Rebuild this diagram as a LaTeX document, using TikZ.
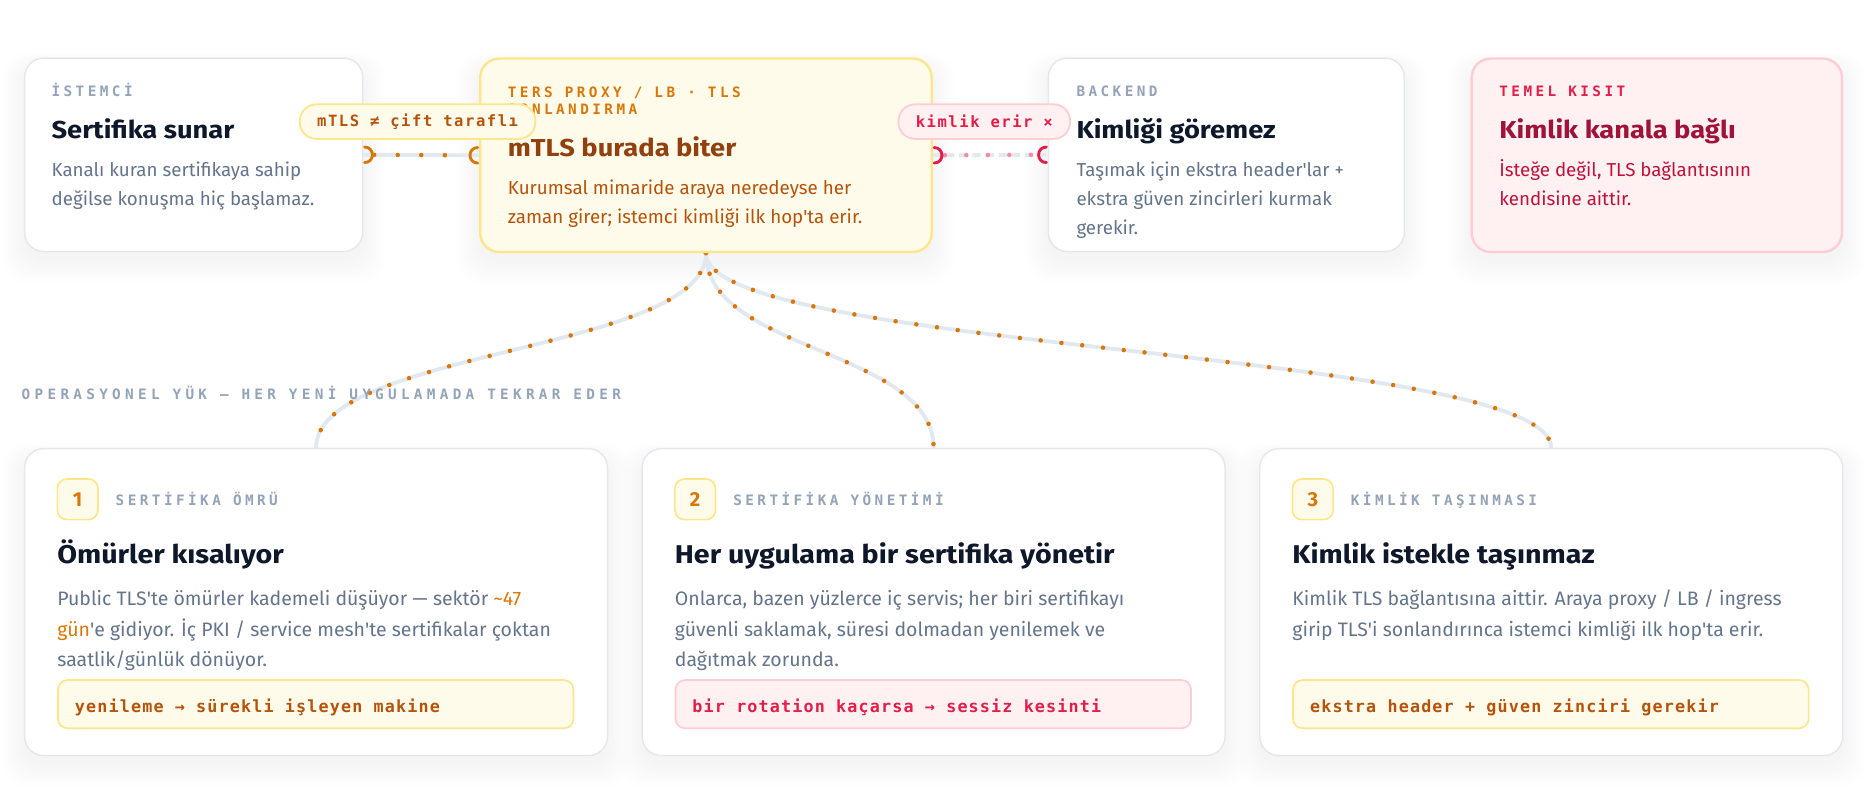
\documentclass[tikz,border=0pt]{standalone}
\usepackage{fontspec}
\setmainfont{Fira Sans}
\newfontfamily\titlefont[FakeStretch=1.115]{Fira Sans}
\newfontfamily\monolab[LetterSpace=24]{DejaVu Sans Mono}
\newfontfamily\monopill[LetterSpace=10]{DejaVu Sans Mono}
\newfontfamily\monobox[LetterSpace=7]{DejaVu Sans Mono}
\newfontfamily\monowide[LetterSpace=30]{DejaVu Sans Mono}
\usetikzlibrary{calc}
\newcommand\aq{\textquotesingle}
\definecolor{ink}{HTML}{0F172A}
\definecolor{muted}{HTML}{64748B}
\definecolor{faint}{HTML}{94A3B8}
\definecolor{cardline}{HTML}{E5E7EB}
\definecolor{trackgray}{HTML}{E2E8F0}
\definecolor{amberA}{HTML}{FFFBEB}
\definecolor{amberB}{HTML}{FDE68A}
\definecolor{amberC}{HTML}{D97706}
\definecolor{amberD}{HTML}{B45309}
\definecolor{amberE}{HTML}{92400E}
\definecolor{roseA}{HTML}{FFF1F2}
\definecolor{roseB}{HTML}{FECDD3}
\definecolor{roseC}{HTML}{E11D48}
\definecolor{roseD}{HTML}{BE123C}
\definecolor{roseE}{HTML}{9F1239}
\definecolor{roseDot}{HTML}{F58BA6}
\pgfdeclarelayer{shadowlayer}
\pgfdeclarelayer{connlayer}
\pgfsetlayers{shadowlayer,connlayer,main}
\tikzset{
  card/.style={draw=cardline, line width=1.2pt, fill=white, rounded corners=16pt, inner sep=0pt, anchor=north west},
  lab/.style={anchor=base west, inner sep=0pt, text=faint, font=\monolab\bfseries\fontsize{12}{14}\selectfont},
  ttl/.style={anchor=base west, inner sep=0pt, text=ink, font=\titlefont\bfseries\fontsize{20.5}{24}\selectfont},
  bigttl/.style={anchor=base west, inner sep=0pt, text=ink, font=\titlefont\bfseries\fontsize{21.5}{26}\selectfont},
  bdy/.style={anchor=base west, inner sep=0pt, text=muted, font=\fontsize{15.7}{18}\selectfont},
  bigbdy/.style={anchor=base west, inner sep=0pt, text=muted, font=\fontsize{16.3}{19}\selectfont},
  track/.style={draw=trackgray, line width=3.2pt},
  dotor/.style={draw=amberC, line width=3.8pt, line cap=round, dash pattern=on 0pt off 17.5pt},
  dotorline/.style={draw=amberC, line width=3.8pt, line cap=round, dash pattern=on 0pt off 19.75pt},
  dotpk/.style={draw=roseDot, line width=3.8pt, line cap=round, dash pattern=on 0pt off 18pt},
  capor/.style={draw=amberC, line width=2.4pt, line cap=round},
  cappk/.style={draw=roseC, line width=2.4pt, line cap=round},
  pillY/.style={draw=amberB, fill=amberA, line width=1.5pt, rounded corners=14pt, minimum height=29pt, inner xsep=14.5pt, inner ysep=0pt, text=amberD, font=\monopill\bfseries\fontsize{13}{15}\selectfont},
  pillR/.style={draw=roseB, fill=roseA, line width=1.5pt, rounded corners=14pt, minimum height=29pt, inner xsep=14.5pt, inner ysep=0pt, text=roseC, font=\monopill\bfseries\fontsize{13}{15}\selectfont},
  boxY/.style={draw=amberB, fill=amberA, line width=1.4pt, rounded corners=8pt, minimum width=431.6pt, minimum height=40.4pt, inner sep=0pt, anchor=north west},
  boxR/.style={draw=roseB, fill=roseA, line width=1.4pt, rounded corners=8pt, minimum width=431.6pt, minimum height=40.4pt, inner sep=0pt, anchor=north west},
  boxtxt/.style={anchor=base west, inner sep=0pt, font=\monobox\bfseries\fontsize{14}{16}\selectfont},
  badge/.style={draw=amberB, fill=amberA, line width=1.4pt, rounded corners=8pt, minimum size=34pt, inner sep=0pt, text=amberC, font=\bfseries\fontsize{17}{18}\selectfont},
}
\newcommand\cardshadow[2]{%
  \begin{pgfonlayer}{shadowlayer}
  \foreach \k in {1,...,10}{%
    \fill[#2, opacity=0.004, rounded corners=20pt] ($(#1.north west)+(-1.8*\k,-1.2*\k+8)$) rectangle ($(#1.south east)+(1.8*\k,2*\k+6)$);
  }
  \end{pgfonlayer}}
\begin{document}
\begin{tikzpicture}[x=1pt,y=-1pt]
\begin{pgfonlayer}{shadowlayer}
\fill[white] (0,0) rectangle (1568,666);
\end{pgfonlayer}
\useasboundingbox (0,0) rectangle (1568,666);

% ---------- top row cards
\node[card, minimum width=283pt, minimum height=162pt] (ist) at (20,48) {};
\node[card, draw=amberB, fill=amberA, line width=2pt, minimum width=378pt, minimum height=162pt] (prx) at (401,48) {};
\node[card, minimum width=298pt, minimum height=162pt] (bk) at (877,48) {};
\node[card, draw=roseB, fill=roseA, line width=2pt, minimum width=310pt, minimum height=162pt] (tk) at (1231,48) {};

% ---------- bottom cards
\node[card, minimum width=488pt, minimum height=257pt] (b1) at (20,375) {};
\node[card, minimum width=488pt, minimum height=257pt] (b2) at (537,375) {};
\node[card, minimum width=488pt, minimum height=257pt] (b3) at (1054,375) {};

\cardshadow{ist}{black}
\cardshadow{prx}{amberC}
\cardshadow{bk}{black}
\cardshadow{tk}{roseC}
\cardshadow{b1}{black}
\cardshadow{b2}{black}
\cardshadow{b3}{black}

% ---------- connectors
\begin{pgfonlayer}{connlayer}
\draw[track] (ist.east) -- (prx.west);
\draw[dotorline] ($(ist.east)+(9,0)$) -- ($(prx.west)+(-10,0)$);
\draw[track, dash pattern=on 7pt off 4pt] (prx.east) -- (bk.west);
\draw[dotpk] ($(prx.east)+(10,0)$) -- ($(bk.west)+(-14,0)$);
\foreach \b in {b1,b2,b3}{%
  \draw[track] (prx.south) .. controls ($(prx.south)+(0,82.5)$) and ($(\b.north)+(0,-82.5)$) .. (\b.north);
  \draw[dotor] (prx.south) .. controls ($(prx.south)+(0,82.5)$) and ($(\b.north)+(0,-82.5)$) .. (\b.north);
}
\end{pgfonlayer}
\draw[capor] ($(ist.east)+(1,-6.5)$) .. controls ($(ist.east)+(9.7,-6.5)$) and ($(ist.east)+(9.7,6.5)$) .. ($(ist.east)+(1,6.5)$);
\draw[capor] ($(prx.west)+(-1,-6.5)$) .. controls ($(prx.west)+(-9.7,-6.5)$) and ($(prx.west)+(-9.7,6.5)$) .. ($(prx.west)+(-1,6.5)$);
\draw[cappk] ($(prx.east)+(1,-6.5)$) .. controls ($(prx.east)+(9.7,-6.5)$) and ($(prx.east)+(9.7,6.5)$) .. ($(prx.east)+(1,6.5)$);
\draw[cappk] ($(bk.west)+(-1,-6.5)$) .. controls ($(bk.west)+(-9.7,-6.5)$) and ($(bk.west)+(-9.7,6.5)$) .. ($(bk.west)+(-1,6.5)$);

% ---------- top texts
\node[lab] (la) at (43,81) {İSTEMCİ};
\node[ttl] (ta) at (43,116) {Sertifika sunar};
\node[bdy] (ba1) at (43,148) {Kanalı kuran sertifikaya sahip};
\node[bdy] (ba2) at (43,172) {değilse konuşma hiç başlamaz.};

\node[lab, text=amberC] (lp1) at (425,82) {TERS PROXY / LB · TLS};
\node[lab, text=amberC] (lp2) at (425,96) {SONLANDIRMA};
\node[ttl, text=amberE] (tp) at (425,131) {mTLS burada biter};
\node[bdy, text=amberD] (bp1) at (425,163) {Kurumsal mimaride araya neredeyse her};
\node[bdy, text=amberD] (bp2) at (425,187) {zaman girer; istemci kimliği ilk hop\aq ta erir.};

\node[lab] (lb) at (901,81) {BACKEND};
\node[ttl] (tb) at (901,116) {Kimliği göremez};
\node[bdy] (bb1) at (901,148) {Taşımak için ekstra header\aq lar +};
\node[bdy] (bb2) at (901,172) {ekstra güven zincirleri kurmak};
\node[bdy] (bb3) at (901,196) {gerekir.};

\node[lab, text=roseC] (lt) at (1255,81) {TEMEL KISIT};
\node[ttl, text=roseE] (tt) at (1255,116) {Kimlik kanala bağlı};
\node[bdy, text=roseD] (bt1) at (1255,148) {İsteğe değil, TLS bağlantısının};
\node[bdy, text=roseD] (bt2) at (1255,172) {kendisine aittir.};

% ---------- pills on connectors
\node[pillY] (pm) at ($(ist.east)!0.5!(prx.west)+(-3,-28)$) {mTLS ≠ çift taraflı};
\node[pillR] (pk) at ($(prx.east)!0.5!(bk.west)+(-5,-28)$) {kimlik erir ×};

% ---------- section label
\node[anchor=base west, inner sep=0pt, text=faint, font=\monowide\bfseries\fontsize{12}{14}\selectfont] (ops) at (18,334.4) {OPERASYONEL YÜK — HER YENİ UYGULAMADA TEKRAR EDER};

% ---------- bottom card 1
\node[badge] (n1) at ($(b1.north west)+(45,43)$) {1};
\node[lab] (l1) at (96.7,423.5) {SERTİFİKA ÖMRÜ};
\node[bigttl] (t1) at (47.8,471.5) {Ömürler kısalıyor};
\node[bigbdy] (d11) at (47.8,507) {Public TLS\aq te ömürler kademeli düşüyor — sektör {\color{amberC}\textasciitilde 47}};
\node[bigbdy] (d12) at (47.8,532.5) {{\color{amberC}gün}\aq e gidiyor. İç PKI / service mesh\aq te sertifikalar çoktan};
\node[bigbdy] (d13) at (47.8,558) {saatlik/günlük dönüyor.};
\node[boxY] (q1) at ($(b1.north west)+(27.8,193.6)$) {};
\node[boxtxt, text=amberD] (q1t) at ($(q1.west)+(14.7,7)$) {yenileme → sürekli işleyen makine};

% ---------- bottom card 2
\node[badge] (n2) at ($(b2.north west)+(45,43)$) {2};
\node[lab] (l2) at (613.7,423.5) {SERTİFİKA YÖNETİMİ};
\node[bigttl] (t2) at (564.8,471.5) {Her uygulama bir sertifika yönetir};
\node[bigbdy] (d21) at (564.8,507) {Onlarca, bazen yüzlerce iç servis; her biri sertifikayı};
\node[bigbdy] (d22) at (564.8,532.5) {güvenli saklamak, süresi dolmadan yenilemek ve};
\node[bigbdy] (d23) at (564.8,558) {dağıtmak zorunda.};
\node[boxR] (q2) at ($(b2.north west)+(27.8,193.6)$) {};
\node[boxtxt, text=roseC] (q2t) at ($(q2.west)+(14.7,7)$) {bir rotation kaçarsa → sessiz kesinti};

% ---------- bottom card 3
\node[badge] (n3) at ($(b3.north west)+(45,43)$) {3};
\node[lab] (l3) at (1130.7,423.5) {KİMLİK TAŞINMASI};
\node[bigttl] (t3) at (1081.8,471.5) {Kimlik istekle taşınmaz};
\node[bigbdy] (d31) at (1081.8,507) {Kimlik TLS bağlantısına aittir. Araya proxy / LB / ingress};
\node[bigbdy] (d32) at (1081.8,532.5) {girip TLS\aq i sonlandırınca istemci kimliği ilk hop\aq ta erir.};
\node[boxY] (q3) at ($(b3.north west)+(27.8,193.6)$) {};
\node[boxtxt, text=amberD] (q3t) at ($(q3.west)+(14.7,7)$) {ekstra header + güven zinciri gerekir};
\end{tikzpicture}
\end{document}
